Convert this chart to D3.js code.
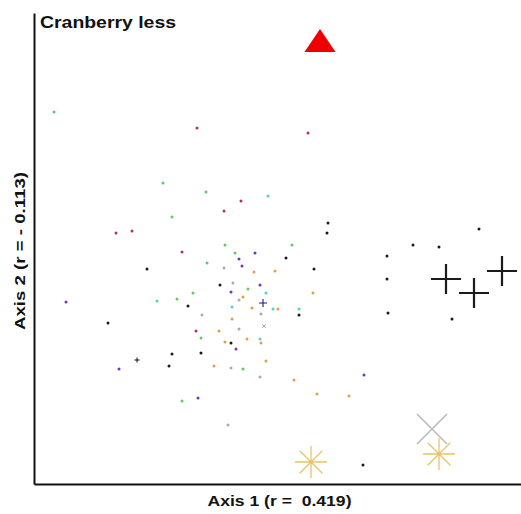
<!DOCTYPE html>
<html>
<head>
<meta charset="utf-8">
<script src="https://cdn.jsdelivr.net/npm/d3@7"></script>
<style>
  html, body { margin: 0; padding: 0; background: #fff; }
  svg { display: block; }
  text { font-family: "Liberation Sans", Arial, sans-serif; font-weight: bold; fill: #111; white-space: pre; }
</style>
</head>
<body>
<svg id="chart" width="521" height="514"></svg>
<script>
// ---- data (axis units, arbitrary ordination scores) ----
const title = "Cranberry less";
const xLabel = "Axis 1 (r =  0.419)";
const yLabel = "Axis 2 (r = - 0.113)";
const xDomain = [0, 487];
const yDomain = [0, 471];

const redPts = [[163,356],[274,351],[207,283],[190,273],[82,251],[98,253],[148,232],[162,153]];
const greenPts = [[20,372],[129,301],[138,267],[172,292],[191,239],[258,239],[201,231],[173,221],[159,191],[143,185],[214,195],[167,146],[209,115],[148,83]];
const cyanPts = [[234,288],[123,183],[232,191],[198,177],[239,175],[265,175],[226,145]];
const purplePts = [[221,231],[205,225],[208,218],[226,199],[197,192],[202,135],[164,86],[330,109],[32,182],[85,115]];
const orangePts = [[220,212],[241,213],[279,191],[209,187],[218,176],[244,175],[198,165],[185,153],[191,142],[213,145],[227,141],[180,118],[232,123],[260,104],[283,90],[315,88]];
const greyPts = [[190,216],[199,201],[205,184],[227,170],[168,169],[205,155],[197,116],[226,107],[194,59]];
const blackPts = [[294,261],[293,251],[252,226],[280,215],[113,215],[186,199],[154,178],[265,169],[74,161],[197,141],[167,131],[138,130],[135,118],[329,19],[445,255],[379,239],[405,237],[353,228],[353,205],[354,171],[418,165]];

const smallPlusBlack = [[103,124]];
const smallPlusNavy = [[229,181]];
const smallCrossGrey = [[230,158]];

const bigTriangle = [[286,443]];
const bigPlus = [[412,205],[440,191],[468,213]];
const bigCross = [[398,55]];
const bigStar = [[277,22],[405,30]];

const dotGroups = [
  {pts: redPts, color: "#b8324f"},
  {pts: greenPts, color: "#62c86a"},
  {pts: cyanPts, color: "#55cfc8"},
  {pts: purplePts, color: "#7433b8"},
  {pts: orangePts, color: "#dea144"},
  {pts: greyPts, color: "#aea6bd"},
  {pts: blackPts, color: "#1a1a1a"}
];

// ---- chart ----
const svg = d3.select("#chart");
const x = d3.scaleLinear().domain(xDomain).range([34, 521]);
const y = d3.scaleLinear().domain(yDomain).range([484, 13]);

// dots
dotGroups.forEach(g => {
  svg.append("g").selectAll("circle").data(g.pts).join("circle")
    .attr("cx", d => x(d[0])).attr("cy", d => y(d[1]))
    .attr("r", 1.5).attr("fill", g.color);
});

// small markers
function plusPath(h) { return `M${-h},0H${h}M0,${-h}V${h}`; }
function crossPath(h) { return `M${-h},${-h}L${h},${h}M${-h},${h}L${h},${-h}`; }
function starPath(h) {
  const d = h * Math.SQRT1_2;
  return plusPath(h) + `M${-d},${-d}L${d},${d}M${-d},${d}L${d},${-d}`;
}

svg.append("g").selectAll("path").data(smallPlusBlack).join("path")
  .attr("transform", d => `translate(${x(d[0])},${y(d[1])})`)
  .attr("d", plusPath(2.5)).attr("stroke", "#111").attr("stroke-width", 1).attr("fill", "none");
svg.append("g").selectAll("path").data(smallPlusNavy).join("path")
  .attr("transform", d => `translate(${x(d[0])},${y(d[1])})`)
  .attr("d", plusPath(4)).attr("stroke", "#1c1c80").attr("stroke-width", 1.1).attr("fill", "none");
svg.append("g").selectAll("path").data(smallCrossGrey).join("path")
  .attr("transform", d => `translate(${x(d[0])},${y(d[1])})`)
  .attr("d", crossPath(1.8)).attr("stroke", "#999").attr("stroke-width", 0.8).attr("fill", "none");

// big markers
svg.append("g").selectAll("path").data(bigTriangle).join("path")
  .attr("transform", d => `translate(${x(d[0])},${y(d[1])})`)
  .attr("d", "M0,-12L15.5,11L-15.5,11Z").attr("fill", "#ee0000");
svg.append("g").selectAll("path").data(bigPlus).join("path")
  .attr("transform", d => `translate(${x(d[0])},${y(d[1])})`)
  .attr("d", plusPath(15)).attr("stroke", "#1a1a1a").attr("stroke-width", 2.2).attr("fill", "none");
svg.append("g").selectAll("path").data(bigCross).join("path")
  .attr("transform", d => `translate(${x(d[0])},${y(d[1])})`)
  .attr("d", crossPath(15)).attr("stroke", "#b9b9b9").attr("stroke-width", 1.5).attr("fill", "none");
svg.append("g").selectAll("path").data(bigStar).join("path")
  .attr("transform", d => `translate(${x(d[0])},${y(d[1])})`)
  .attr("d", starPath(16)).attr("stroke", "#e8c468").attr("stroke-width", 1.3).attr("fill", "none");

// axes (no ticks)
svg.append("g").attr("transform", "translate(0,484)")
  .call(d3.axisBottom(x).tickValues([]).tickSizeOuter(0))
  .call(g => g.select(".domain").attr("stroke", "#111").attr("stroke-width", 2));
svg.append("g").attr("transform", "translate(34,0)")
  .call(d3.axisLeft(y).tickValues([]).tickSizeOuter(0))
  .call(g => g.select(".domain").attr("stroke", "#111").attr("stroke-width", 2));

// texts
svg.append("text").attr("x", 40).attr("y", 27.5)
  .attr("font-size", 17).attr("textLength", 136).attr("lengthAdjust", "spacingAndGlyphs")
  .text(title);
svg.append("text").attr("x", 279.5).attr("y", 505.5).attr("text-anchor", "middle")
  .attr("font-size", 15).attr("textLength", 144).attr("lengthAdjust", "spacingAndGlyphs")
  .text(xLabel);
svg.append("text").attr("transform", "translate(25,251) rotate(-90)").attr("text-anchor", "middle")
  .attr("font-size", 15).attr("textLength", 158).attr("lengthAdjust", "spacingAndGlyphs")
  .text(yLabel);
</script>
</body>
</html>
